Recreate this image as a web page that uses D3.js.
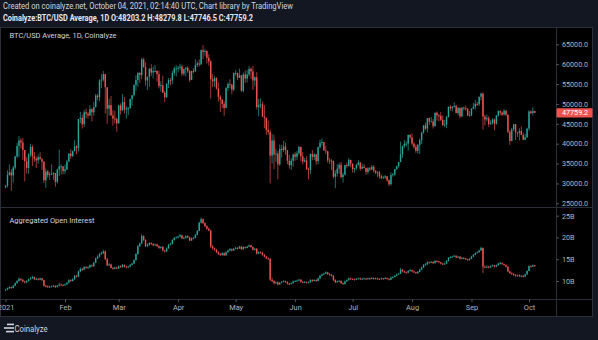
<!DOCTYPE html>
<html><head><meta charset="utf-8">
<script src="https://cdn.jsdelivr.net/npm/d3@7"></script>
<style>
html,body{margin:0;padding:0;background:#131722;overflow:hidden;}
svg{display:block;}
</style></head><body>
<svg id="c" width="598" height="340"></svg>
<script>
// ---------- DATA (daily, 2021-01-01 .. 2021-10-04) ----------
const startDate = "2021-01-01";
const firstOpen = 29.0; // BTC/USD, thousands (open of first candle)
// BTC/USD Average daily close (thousand USD)
const priceClose = [
 29.4,32.1,32.8,32.0,34.0,36.8,39.4,40.8,40.3,38.4,35.6,33.9,37.3,39.2,36.8,36.2,35.8,36.6,36.1,35.5,30.8,33.0,32.1,32.3,32.4,32.6,30.4,33.5,34.3,34.3,33.1,
 33.5,35.5,37.5,36.9,38.1,39.3,38.9,46.2,46.5,44.9,47.9,47.5,47.1,48.7,47.9,49.2,52.1,51.7,55.9,56.1,57.5,54.2,48.8,49.7,47.1,46.3,46.2,45.1,
 49.6,48.4,50.5,48.6,48.9,48.9,51.2,52.2,54.8,56.0,57.8,57.3,61.2,59.3,55.9,56.8,58.9,57.9,58.3,58.3,57.5,54.5,54.7,52.8,51.7,55.1,56.0,55.9,57.8,58.9,58.9,
 59.1,59.4,57.6,58.8,59.1,58.2,56.0,58.3,58.2,59.8,60.2,59.9,63.5,63.1,63.3,61.6,60.7,56.2,55.7,56.5,53.9,51.8,51.1,50.0,49.0,54.0,55.0,54.8,53.6,57.8,
 57.8,56.6,57.2,53.3,57.4,56.4,57.4,58.8,58.2,55.9,56.7,49.2,49.7,49.9,46.8,46.5,43.5,42.9,37.0,40.8,37.3,37.5,34.8,38.7,38.4,39.3,38.4,35.7,34.6,35.7,37.3,
 36.7,37.6,39.2,36.8,35.5,35.8,33.6,33.4,37.4,36.7,37.3,35.6,39.1,40.2,40.4,38.3,38.1,35.8,35.6,35.7,31.7,32.5,33.7,34.7,31.6,32.2,34.6,34.4,35.9,35.0,
 33.6,33.9,34.7,35.3,33.7,34.2,33.9,32.9,33.8,33.5,34.2,33.2,32.7,32.8,31.8,31.4,31.5,31.8,30.8,29.8,32.1,32.3,33.6,34.3,35.4,37.3,39.4,40.0,40.0,42.2,41.6,
 40.0,39.2,38.2,39.7,40.9,42.8,44.6,43.8,46.4,45.6,45.6,44.4,47.8,47.1,47.0,46.0,44.7,44.8,46.7,49.3,48.9,49.3,49.5,47.7,49.0,46.9,49.1,48.9,48.8,47.1,47.2,
 48.8,49.3,50.0,49.9,51.8,52.6,46.8,46.1,46.4,44.9,45.2,46.1,45.0,47.1,48.2,47.8,47.3,48.3,47.3,43.0,40.7,43.6,44.9,42.8,42.7,43.2,42.2,41.0,41.6,43.8,
 48.1,47.7,48.2032,47.7592
];
const priceHigh = [
 29.6,33.3,34.8,33.6,34.4,36.9,40.2,41.9,41.4,41.4,38.3,36.6,37.6,40.0,39.7,37.9,36.8,37.3,37.8,36.4,35.6,33.8,33.4,32.9,34.8,32.8,32.6,33.7,38.5,34.8,34.2,
 34.7,35.9,37.6,38.6,38.3,40.9,39.6,46.2,48.0,47.3,48.5,48.8,48.0,49.7,48.9,50.5,52.5,52.5,56.2,57.5,58.3,57.5,54.2,51.3,52.0,48.4,48.3,46.6,
 49.8,50.1,52.5,51.7,49.4,49.2,51.4,52.3,54.9,57.2,58.0,58.0,61.6,61.6,60.5,56.9,58.9,60.0,59.4,59.8,58.5,58.4,55.7,57.1,53.3,55.1,56.5,56.5,58.4,59.4,59.8,
 59.5,60.1,59.9,58.9,59.3,59.5,58.6,58.4,59.0,61.2,60.7,61.2,63.7,64.8,63.8,63.5,62.5,61.0,57.5,57.0,56.7,55.4,52.2,51.2,50.6,54.3,55.4,56.2,55.1,57.9,
 58.5,57.9,58.9,57.2,57.9,58.4,58.6,59.5,59.2,59.5,56.9,58.0,51.3,51.4,50.6,49.7,46.6,45.8,43.5,42.5,42.2,38.8,38.2,39.8,39.7,40.7,40.3,38.4,37.2,36.4,37.5,
 37.9,38.2,39.4,39.2,37.9,36.4,36.8,34.0,37.5,38.4,37.6,37.4,39.3,41.0,41.3,40.5,39.5,38.2,36.4,36.1,35.7,33.3,34.8,35.2,35.4,32.7,34.7,35.2,36.4,36.0,
 35.0,33.9,34.9,35.9,35.3,35.0,34.9,33.9,34.1,34.2,34.6,34.6,33.3,33.1,33.2,32.2,31.9,32.1,31.9,31.0,32.8,32.6,33.6,34.5,35.4,40.5,39.5,40.9,40.6,42.3,42.4,
 42.6,40.4,39.8,39.9,41.3,43.0,44.7,45.3,46.4,46.6,46.7,46.2,47.8,48.1,47.4,48.0,47.1,46.0,47.0,49.3,49.7,49.4,50.4,49.8,49.2,49.1,49.1,49.3,49.6,48.9,48.2,
 48.9,50.3,51.0,50.5,51.8,52.8,52.9,47.3,47.3,47.0,45.9,46.4,46.3,47.2,48.4,48.4,48.1,48.7,48.4,47.3,43.5,44.0,44.9,45.0,42.9,43.9,44.3,42.7,42.5,44.0,
 48.4,48.4,49.2,48.2798
];
const priceLow = [
 28.8,29.0,32.0,28.1,30.2,33.5,36.4,36.6,38.8,35.9,30.5,32.5,32.4,36.7,34.4,35.4,33.9,34.9,36.0,33.4,30.1,28.9,31.4,30.9,32.1,30.9,29.2,30.0,31.9,32.2,32.3,
 32.3,33.4,35.4,36.2,36.6,38.1,37.4,38.0,45.2,43.8,44.2,46.4,46.3,47.0,45.6,47.0,49.1,50.9,50.6,54.0,55.6,47.6,45.0,47.1,47.0,44.5,45.1,43.0,
 45.1,47.3,48.2,47.6,46.3,47.2,48.9,49.6,51.9,53.3,54.3,55.3,56.2,59.1,54.6,53.5,54.3,57.1,56.4,57.9,55.6,53.9,53.1,52.8,50.5,51.5,54.0,54.7,55.0,57.1,56.9,
 57.9,58.5,57.0,57.1,56.9,57.8,55.5,56.0,57.7,58.0,59.3,59.4,59.9,61.3,62.1,60.2,59.6,51.3,54.2,54.3,53.6,50.6,48.0,48.9,47.0,48.9,53.3,53.9,52.4,53.2,
 57.1,56.0,56.5,53.1,52.9,55.3,55.4,56.9,56.3,53.5,54.4,48.6,46.9,48.9,46.7,43.9,42.2,42.3,30.0,35.0,33.6,35.4,31.0,34.4,36.5,37.9,37.2,34.8,33.7,33.4,34.2,
 35.7,35.9,37.2,35.6,34.8,35.3,33.4,31.0,32.4,35.8,35.9,34.7,34.8,38.8,39.6,38.2,37.4,35.2,34.9,33.4,31.3,28.8,31.7,32.4,31.3,30.2,32.0,33.9,34.3,34.1,
 32.7,32.7,33.4,34.5,33.2,33.6,33.8,32.2,32.3,33.1,33.3,32.7,32.3,31.6,31.2,31.1,31.2,31.1,30.4,29.3,29.5,31.7,31.9,33.4,33.9,35.3,36.4,38.8,39.3,38.3,41.1,
 39.5,38.7,37.7,37.5,37.4,39.9,42.5,43.4,42.8,44.7,45.4,43.8,44.3,45.8,45.6,45.7,44.4,44.2,43.9,46.6,48.3,48.1,49.1,47.7,47.2,46.4,46.6,48.4,48.3,46.9,46.8,
 46.9,48.7,48.6,49.5,49.5,50.9,43.5,44.6,45.6,44.2,44.8,44.8,43.4,44.8,46.8,47.1,46.9,47.1,46.9,42.6,39.7,40.6,43.2,40.9,41.7,40.8,42.2,40.9,40.8,41.5,
 43.3,47.4,47.1,47.7465
];
// Aggregated Open Interest (billions)
const oiFirstOpen = 7.9;
const oiClose = [
 8.0,8.3,8.6,8.4,8.9,9.5,10.0,10.5,10.3,9.9,9.7,10.0,10.4,10.6,10.9,10.4,10.5,10.3,10.6,10.2,8.9,8.8,8.6,8.7,8.8,8.9,8.6,8.9,9.2,9.1,9.0,
 9.2,9.6,10.2,10.0,10.4,11.2,11.0,12.2,12.8,12.6,13.2,13.0,13.1,13.6,13.4,14.2,15.2,15.6,16.2,16.4,16.8,15.0,13.6,13.8,13.0,12.8,13.1,12.9,
 13.4,13.2,13.7,13.3,13.1,13.3,13.7,14.0,14.8,16.2,18.0,18.6,20.3,19.4,18.0,18.3,18.7,18.5,18.2,18.4,18.0,17.6,17.8,17.0,16.8,17.5,18.3,18.5,19.4,19.9,20.0,
 20.2,20.5,19.8,19.9,20.3,20.0,19.3,19.8,19.9,20.6,21.5,23.4,24.2,23.3,22.6,22.0,21.6,17.9,17.5,17.2,16.6,16.2,16.0,16.4,15.9,16.6,17.0,17.3,17.0,17.4,
 17.6,17.5,17.9,17.3,17.8,17.6,17.9,18.2,17.8,17.2,17.4,16.3,16.6,16.5,16.0,15.6,15.2,15.1,10.3,10.0,9.5,9.7,9.2,9.6,9.8,10.0,9.8,9.4,9.3,9.5,9.9,
 10.0,10.1,10.3,9.8,9.7,9.8,9.6,9.7,10.2,10.0,10.2,10.0,10.6,11.2,11.5,11.7,12.0,11.6,11.4,11.2,10.2,9.7,9.9,10.0,9.5,9.3,9.9,10.2,10.6,10.5,
 10.4,10.3,10.5,10.6,10.4,10.5,10.6,10.4,10.6,10.5,10.7,10.5,10.6,10.5,10.4,10.6,10.5,10.7,10.5,10.3,10.8,10.9,11.2,11.5,11.7,12.6,12.2,12.0,11.9,12.3,12.5,
 12.2,12.0,11.8,12.1,12.6,13.1,13.7,13.8,14.3,14.2,14.4,14.1,14.6,14.5,14.3,14.0,13.8,14.0,14.6,15.3,15.5,15.6,15.8,15.4,15.6,15.1,15.3,15.2,15.0,14.8,15.1,
 15.6,16.0,16.4,16.6,17.0,17.6,13.3,13.2,13.3,13.1,13.4,13.6,13.3,13.6,14.0,14.1,13.9,13.7,13.3,12.2,11.8,11.6,11.4,11.2,11.3,11.1,11.2,11.0,11.5,12.3,
 13.4,13.3,13.6,13.4
];
const oiHigh = [
 8.2,8.5,8.8,8.7,9.1,9.7,10.2,10.8,10.7,10.4,10.1,10.2,10.6,10.9,11.2,11.0,10.8,10.7,10.8,10.7,10.3,9.2,9.0,8.9,9.0,9.1,9.0,9.1,9.6,9.4,9.3,
 9.4,9.8,10.4,10.4,10.6,11.4,11.4,12.4,13.1,13.0,13.4,13.4,13.4,13.8,13.8,14.4,15.4,15.9,16.5,16.8,17.2,17.0,15.3,14.1,14.0,13.2,13.3,13.3,
 13.6,13.6,13.9,13.8,13.5,13.5,13.9,14.2,15.0,16.4,18.3,18.9,20.8,20.5,19.6,18.6,18.9,18.9,18.7,18.6,18.6,18.2,18.0,18.1,17.2,17.7,18.5,18.8,19.6,20.1,20.3,
 20.4,20.8,20.6,20.2,20.5,20.5,20.2,20.0,20.1,20.8,21.7,23.6,24.6,24.4,23.5,22.8,22.3,21.8,18.3,17.7,17.4,16.8,16.5,16.6,16.6,16.8,17.2,17.6,17.5,17.6,
 17.9,17.8,18.1,18.0,18.0,17.9,18.1,18.4,18.3,17.9,17.6,17.6,16.8,16.8,16.7,16.2,15.8,15.4,15.3,10.8,10.2,9.9,9.9,9.8,10.0,10.2,10.1,9.9,9.6,9.7,10.1,
 10.2,10.3,10.5,10.4,10.0,10.0,9.9,9.9,10.4,10.4,10.4,10.4,10.8,11.4,11.7,11.9,12.2,12.1,11.8,11.6,11.4,10.4,10.1,10.2,10.2,9.7,10.1,10.4,10.8,10.8,
 10.6,10.6,10.7,10.8,10.8,10.7,10.8,10.7,10.8,10.8,10.9,10.8,10.8,10.8,10.6,10.8,10.7,10.9,10.8,10.6,11.0,11.1,11.4,11.7,11.9,13.0,12.7,12.4,12.2,12.5,12.8,
 12.6,12.4,12.1,12.3,12.8,13.3,13.9,14.1,14.5,14.5,14.6,14.5,14.8,14.8,14.6,14.4,14.1,14.2,14.8,15.5,15.7,15.8,16.0,15.9,15.8,15.7,15.5,15.5,15.3,15.1,15.3,
 15.8,16.2,16.6,16.8,17.2,17.9,17.7,13.6,13.6,13.5,13.6,13.8,13.7,13.8,14.2,14.4,14.3,14.0,13.8,13.4,12.4,12.0,11.8,11.6,11.5,11.5,11.4,11.4,11.7,12.5,
 13.6,13.6,13.8,13.7
];
const oiLow = [
 7.8,7.9,8.2,8.2,8.3,8.8,9.4,9.9,10.0,9.7,9.4,9.5,9.9,10.3,10.5,10.2,10.2,10.1,10.2,10.0,8.7,8.5,8.4,8.4,8.6,8.7,8.4,8.5,8.8,8.9,8.8,
 8.9,9.1,9.5,9.8,9.9,10.3,10.8,10.9,12.0,12.3,12.5,12.8,12.8,13.0,13.2,13.3,14.1,15.0,15.4,16.0,16.2,14.8,13.4,13.4,12.9,12.6,12.7,12.7,
 12.8,13.0,13.1,13.1,12.9,13.0,13.2,13.6,13.9,14.7,16.0,17.8,18.5,19.2,17.8,17.8,18.1,18.3,18.0,18.1,17.8,17.4,17.4,16.8,16.5,16.7,17.4,18.2,18.4,19.3,19.8,
 19.8,20.0,19.6,19.6,19.8,19.8,19.1,19.2,19.6,19.8,20.5,21.4,23.2,23.1,22.4,21.8,21.4,17.6,17.2,16.9,16.4,16.0,15.7,15.8,15.7,15.8,16.5,16.9,16.8,16.9,
 17.3,17.2,17.4,17.1,17.2,17.4,17.5,17.8,17.6,17.0,17.0,16.1,16.2,16.3,15.8,15.4,15.0,14.9,10.0,9.7,9.2,9.3,9.0,9.1,9.5,9.7,9.6,9.2,9.1,9.2,9.4,
 9.8,9.9,10.0,9.6,9.5,9.6,9.4,9.5,9.6,9.8,9.9,9.8,9.9,10.5,11.1,11.4,11.6,11.4,11.2,11.0,10.0,9.5,9.6,9.8,9.3,9.1,9.2,9.8,10.1,10.3,
 10.2,10.1,10.2,10.4,10.2,10.3,10.4,10.2,10.3,10.3,10.4,10.3,10.4,10.3,10.2,10.3,10.3,10.4,10.3,10.1,10.2,10.6,10.8,11.1,11.4,11.6,12.0,11.8,11.7,11.8,12.2,
 12.0,11.8,11.6,11.7,12.0,12.5,13.0,13.5,13.7,14.0,14.1,13.9,14.0,14.3,14.1,13.8,13.6,13.7,13.9,14.5,15.2,15.3,15.5,15.2,15.3,14.9,15.0,15.0,14.8,14.6,14.7,
 15.0,15.5,15.9,16.3,16.5,16.9,11.8,12.9,13.0,12.9,13.0,13.3,13.1,13.2,13.5,13.8,13.7,13.5,13.1,12.0,11.6,11.4,11.2,11.0,11.0,10.9,10.9,10.8,10.9,11.4,
 12.2,13.1,13.2,13.3
];
const priceTicks = [25, 30, 35, 40, 45, 50, 55, 60, 65];          // thousand USD
const oiTicks = [10, 15, 20, 25];                                  // billions
const monthLabels = ["2021","Feb","Mar","Apr","May","Jun","Jul","Aug","Sep","Oct"];
const headerLine1 = "Created on coinalyze.net, October 04, 2021, 02:14:40 UTC, Chart library by TradingView";
const headerLine2 = "Coinalyze:BTC/USD Average, 1D O:48203.2 H:48279.8 L:47746.5 C:47759.2";
const priceTitle = "BTC/USD Average, 1D, Coinalyze";
const oiTitle = "Aggregated Open Interest";
const lastPrice = 47.7592;

// ---------- CHECK ----------
const N = priceClose.length;
[["priceHigh",priceHigh],["priceLow",priceLow],["oiClose",oiClose],["oiHigh",oiHigh],["oiLow",oiLow]].forEach(([n,a])=>{
  if (a.length !== N) throw new Error(n+" length "+a.length+" != "+N);
});

// ---------- BUILD ----------
const t0 = new Date(startDate + "T00:00:00Z");
const dates = d3.range(N).map(i => d3.utcDay.offset(t0, i));
const candles = dates.map((d,i)=>({
  d, o: i===0 ? firstOpen : priceClose[i-1], c: priceClose[i], h: priceHigh[i], l: priceLow[i]
}));
const oiCandles = dates.map((d,i)=>({
  d, o: i===0 ? oiFirstOpen : oiClose[i-1], c: oiClose[i], h: oiHigh[i], l: oiLow[i]
}));

const W = 598, H = 340;
const UP = "#26a69a", DOWN = "#ef5350";
const GRID = "#2a2e39", TXT = "#b2b5be";
const FONT = "Roboto, 'Liberation Sans', sans-serif";

const svg = d3.select("#c");
svg.append("rect").attr("width", W).attr("height", H).attr("fill", "#131722");

// header
svg.append("text").attr("x", 3).attr("y", 9.2).attr("fill", "#d1d4dc")
  .attr("font-family", FONT).attr("font-size", 8.6)
  .attr("textLength", 290).attr("lengthAdjust", "spacingAndGlyphs").text(headerLine1);
svg.append("text").attr("x", 3).attr("y", 20.6).attr("fill", "#e6e8ee")
  .attr("font-family", FONT).attr("font-size", 8.6).attr("font-weight", "bold")
  .attr("textLength", 250).attr("lengthAdjust", "spacingAndGlyphs").text(headerLine2);

// chart panel
const panel = {x0: 0, x1: 593, y0: 27, y1: 317};
svg.append("rect").attr("x", panel.x0 + 0.5).attr("y", panel.y0 + 0.5)
  .attr("width", panel.x1 - panel.x0 - 1).attr("height", panel.y1 - panel.y0 - 1)
  .attr("fill", "#000").attr("stroke", GRID);

const axisX = 556;       // right price axis divider
const paneSep = 207;     // between panes
const timeY = 299;       // time axis top

const x = d3.scaleUtc()
  .domain([new Date("2021-01-01T00:00:00Z"), new Date("2021-10-01T00:00:00Z")])
  .range([5.57, 529]);
const yP = d3.scaleLinear().domain([25, 65]).range([203.3, 44.3]);
const yO = d3.scaleLinear().domain([10, 25]).range([281, 215.7]);

// separators
const sep = svg.append("g").attr("stroke", GRID).attr("stroke-width", 1);
sep.append("line").attr("x1", 0).attr("x2", panel.x1).attr("y1", paneSep + 0.5).attr("y2", paneSep + 0.5);
sep.append("line").attr("x1", 0).attr("x2", panel.x1).attr("y1", timeY + 0.5).attr("y2", timeY + 0.5);
sep.append("line").attr("x1", axisX + 0.5).attr("x2", axisX + 0.5).attr("y1", panel.y0).attr("y2", panel.y1);

// candles
function drawCandles(g, data, y, bodyW) {
  const sel = g.selectAll("g.cd").data(data).join("g").attr("class", "cd");
  sel.append("line")
    .attr("x1", d => x(d.d)).attr("x2", d => x(d.d))
    .attr("y1", d => y(Math.max(d.h, d.o, d.c))).attr("y2", d => y(Math.min(d.l, d.o, d.c)))
    .attr("stroke", d => d.c >= d.o ? UP : DOWN).attr("stroke-width", 0.8).attr("stroke-opacity", 0.85);
  sel.append("rect")
    .attr("x", d => x(d.d) - bodyW / 2).attr("width", bodyW)
    .attr("y", d => y(Math.max(d.o, d.c)))
    .attr("height", d => Math.max(0.9, Math.abs(y(d.o) - y(d.c))))
    .attr("fill", d => d.c >= d.o ? UP : DOWN);
}
const clipP = svg.append("clipPath").attr("id", "cp").append("rect")
  .attr("x", 1).attr("y", panel.y0 + 1).attr("width", axisX - 1).attr("height", paneSep - panel.y0 - 1);
const clipO = svg.append("clipPath").attr("id", "co").append("rect")
  .attr("x", 1).attr("y", paneSep + 1).attr("width", axisX - 1).attr("height", timeY - paneSep - 1);
drawCandles(svg.append("g").attr("clip-path", "url(#cp)"), candles, yP, 1.4);
drawCandles(svg.append("g").attr("clip-path", "url(#co)"), oiCandles, yO, 1.4);

// pane titles
svg.append("text").attr("x", 9.5).attr("y", 38).attr("fill", "#d1d4dc")
  .attr("font-family", FONT).attr("font-size", 8)
  .attr("textLength", 107).attr("lengthAdjust", "spacingAndGlyphs").text(priceTitle);
svg.append("text").attr("x", 9.5).attr("y", 223).attr("fill", "#d1d4dc")
  .attr("font-family", FONT).attr("font-size", 8)
  .attr("textLength", 85).attr("lengthAdjust", "spacingAndGlyphs").text(oiTitle);

// axes
function styleAxis(g) {
  g.select(".domain").remove();
  g.selectAll(".tick line").attr("stroke", "#50535e");
  g.selectAll(".tick text").attr("fill", TXT).attr("font-family", FONT).attr("font-size", 7.2);
}
svg.append("g").attr("transform", `translate(${axisX},0)`)
  .call(d3.axisRight(yP).tickValues(priceTicks).tickSize(3).tickPadding(3)
    .tickFormat(v => (v * 1000).toFixed(1)))
  .call(styleAxis);
svg.append("g").attr("transform", `translate(${axisX},0)`)
  .call(d3.axisRight(yO).tickValues(oiTicks).tickSize(3).tickPadding(3)
    .tickFormat(v => v + "B"))
  .call(styleAxis);

const monthDates = d3.utcMonths(new Date("2021-01-01T00:00:00Z"), new Date("2021-10-02T00:00:00Z"));
svg.append("g").attr("transform", `translate(0,${timeY})`)
  .call(d3.axisBottom(x).tickValues(monthDates).tickSize(3).tickPadding(3)
    .tickFormat((d, i) => monthLabels[i]))
  .call(styleAxis)
  .selectAll(".tick text").attr("font-size", 7.4);

// last price label
const lp = svg.append("g");
lp.append("rect").attr("x", axisX + 0.5).attr("y", yP(lastPrice) - 4.6)
  .attr("width", 36).attr("height", 9.2).attr("rx", 1).attr("fill", DOWN);
lp.append("text").attr("x", axisX + 6).attr("y", yP(lastPrice)).attr("dy", "0.34em")
  .attr("fill", "#fff").attr("font-family", FONT).attr("font-size", 7.2)
  .text((lastPrice * 1000).toFixed(1));

// bottom logo
const logo = svg.append("g").attr("fill", "#d1d4dc");
[[7, 323.6, 7], [4, 327.2, 10], [6, 330.8, 8]].forEach(([lx, ly, lw]) =>
  logo.append("rect").attr("x", lx).attr("y", ly).attr("width", lw).attr("height", 1.6));
svg.append("text").attr("x", 14.5).attr("y", 332).attr("fill", "#d1d4dc")
  .attr("font-family", FONT).attr("font-size", 8.4)
  .attr("textLength", 33).attr("lengthAdjust", "spacingAndGlyphs").text("Coinalyze");
</script>
</body></html>
